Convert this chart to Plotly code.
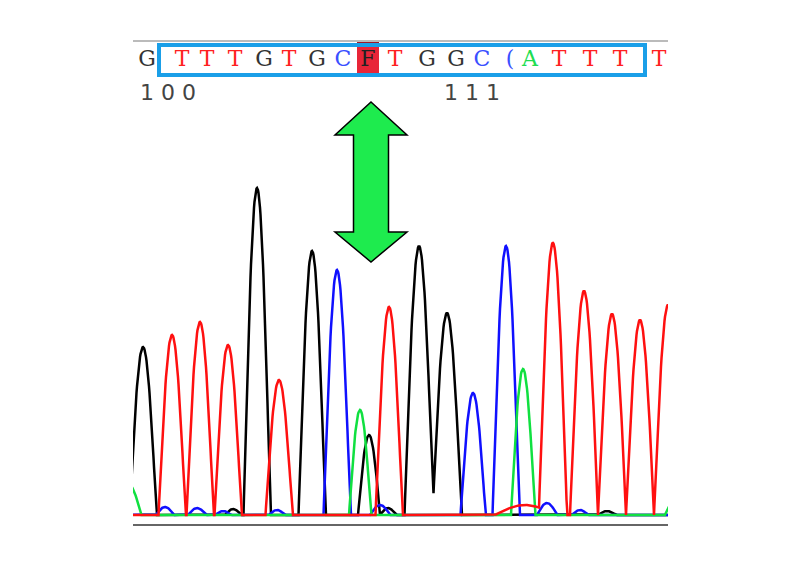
import numpy as np
import plotly.graph_objects as go

# ---------------- data ----------------
# scan positions (trace x units), peak intensities and half-base widths per dye channel
black_pos = [10, 100, 124, 179, 236, 255, 286, 314, 474]
black_h   = [168, 6, 327, 264, 80, 7, 269, 202, 4]
black_w   = [13.5, 8, 13.5, 13.5, 11, 8, 14.5, 14.5, 9]

red_pos = [39, 67, 95, 146, 256, 392, 420, 451, 479, 507, 535]
red_h   = [180, 193, 170, 135, 208, 10, 271, 224, 201, 195, 210]
red_w   = [13.5, 13.5, 13.5, 13.5, 13.5, 30, 14, 14, 14, 14, 14]

blue_pos = [32, 64, 90, 144, 204, 247, 340, 373, 414, 447]
blue_h   = [8, 7, 4, 5, 245, 10, 122, 269, 12, 5]
blue_w   = [9, 9, 8, 8, 13.5, 10, 12.5, 13.5, 10, 8]

green_pos = [-4, 227, 390, 541]
green_h   = [30, 105, 146, 14]
green_w   = [12, 11, 12, 9]

base_letters = ["G", "T", "T", "T", "G", "T", "G", "C", "F", "T",
                "G", "G", "C", "(", "A", "T", "T", "T", "T"]
base_x = [14, 49, 74, 102, 131, 156, 184, 210, 235, 262,
          294, 323, 349, 377, 397, 426, 457, 487, 526]

position_labels = ["1 0 0", "1 1 1"]
position_x = [35, 339]

# ---------------- build ----------------
scan = np.arange(-20, 556, 0.5)


def channel(pos, h, w):
    y = np.zeros_like(scan)
    for p, a, half in zip(pos, h, w):
        d = (scan - p) / half
        y += np.where(np.abs(d) < 1, a * np.cos(np.pi * d / 2), 0.0)
    return y


fig = go.Figure()
for name, pos, h, w, col in [
    ("G", black_pos, black_h, black_w, "#000000"),
    ("C", blue_pos, blue_h, blue_w, "#1010ff"),
    ("A", green_pos, green_h, green_w, "#10e040"),
    ("T", red_pos, red_h, red_w, "#ff1010"),
]:
    fig.add_trace(go.Scatter(x=scan, y=channel(pos, h, w), mode="lines",
                             line=dict(color=col, width=2.5), name=name,
                             hoverinfo="skip"))

letter_colors = {"T": "#ff2020", "G": "#333333", "C": "#3a50ff",
                 "A": "#20dd50", "F": "#222222", "(": "#3a50ff"}

shapes = [
    # top gray rule and bottom axis rule
    dict(type="line", xref="x", yref="y", x0=0, x1=535, y0=474, y1=474,
         line=dict(color="#bbbbbb", width=2)),
    dict(type="line", xref="x", yref="y", x0=0, x1=535, y0=-10, y1=-10,
         line=dict(color="#666666", width=2)),
    # highlighted base
    dict(type="rect", xref="x", yref="y", x0=224, x1=246, y0=440, y1=473,
         fillcolor="#e82538", line=dict(width=0), layer="below"),
    dict(type="rect", xref="x", yref="y", x0=224, x1=246, y0=470, y1=473,
         fillcolor="#a01828", line=dict(width=0), layer="below"),
    # blue selection box
    dict(type="rect", xref="x", yref="y", x0=26, x1=512, y0=440, y1=470,
         line=dict(color="#1a9fe8", width=4)),
    # green double arrow
    dict(type="path", xref="x", yref="y",
         path="M 238,413 L 274,380 L 255.5,380 L 255.5,283 L 274,283 L 238,253 "
              "L 202,283 L 220.5,283 L 220.5,380 L 202,380 Z",
         fillcolor="#1eeb4e", line=dict(color="#000000", width=1.5)),
]

# base calls as a clipped text trace (letters at the edges are cut off)
fig.add_trace(go.Scatter(
    x=base_x, y=[455] * len(base_x), mode="text", text=base_letters,
    textposition="middle center", cliponaxis=True, hoverinfo="skip",
    textfont=dict(family="DejaVu Serif", size=22,
                  color=[letter_colors[L] for L in base_letters])))

annotations = []
for t, x in zip(position_labels, position_x):
    annotations.append(dict(x=x, y=423, xref="x", yref="y", text=t,
                            showarrow=False, xanchor="center", yanchor="middle",
                            font=dict(family="DejaVu Sans", size=22,
                                      color="#444444")))

# page body has an 8px default margin, so the figure is 8px smaller and shifted
fig.update_layout(
    width=792, height=571,
    margin=dict(l=125, r=132, t=32, b=52),
    paper_bgcolor="white", plot_bgcolor="white",
    showlegend=False,
    xaxis=dict(range=[0, 535], visible=False),
    yaxis=dict(range=[-12, 475], visible=False),
    annotations=annotations,
    shapes=shapes,
)

fig.write_html("out.html")
